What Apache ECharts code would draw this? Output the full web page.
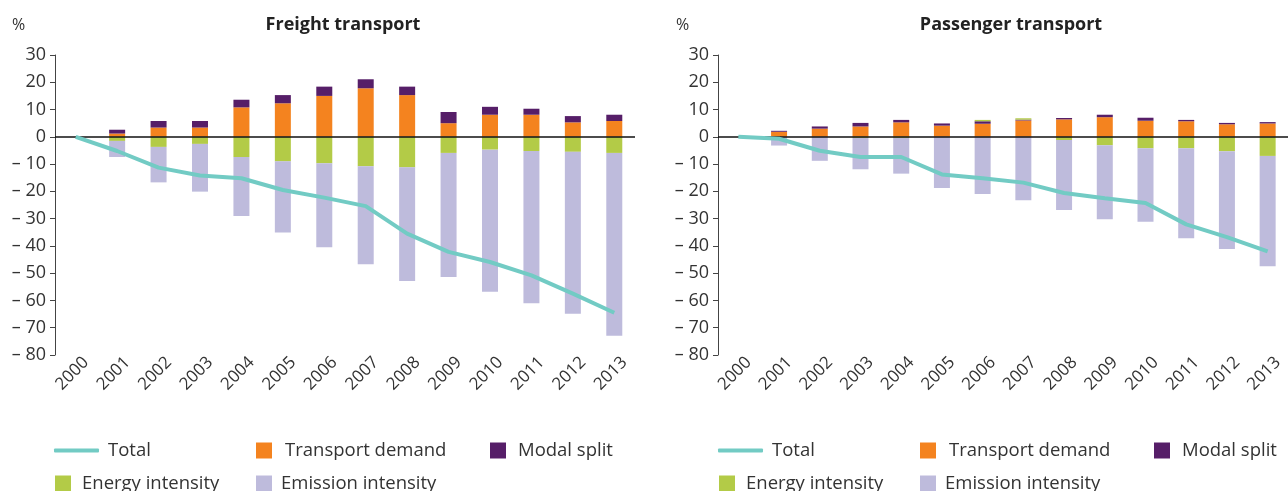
<!DOCTYPE html>
<html>
   <head>
       <meta charset="utf-8">
       <style>
           html, body { margin: 0; padding: 0; background: #fff; }
       </style>
   </head>
   <body>
       <div id="container" style="height: 491px;width: 1288px;"></div>
   </body>
</html>
<script type="text/javascript" src="https://cdn.jsdelivr.net/npm/echarts@6/dist/echarts.min.js"></script>
<script type="text/javascript">
    // data (% change vs 2000)
    const years = ['2000','2001','2002','2003','2004','2005','2006','2007','2008','2009','2010','2011','2012','2013'];
    const yTicks = [30, 20, 10, 0, -10, -20, -30, -40, -50, -60, -70, -80];

    const freightDemand   = [null, 1.2, 3.4, 3.4, 10.8, 12.3, 15.0, 17.8, 15.3, 5.0, 8.1, 8.1, 5.3, 5.8];
    const freightModal    = [null, 1.4, 2.4, 2.4, 2.8, 3.0, 3.4, 3.3, 3.1, 4.1, 2.9, 2.2, 2.3, 2.3];
    const freightEnergy   = [null, -1.5, -3.7, -2.6, -7.4, -9.0, -9.7, -10.8, -11.2, -5.9, -4.7, -5.2, -5.5, -5.9];
    const freightEmission = [null, -5.9, -13.0, -17.5, -21.6, -26.1, -30.8, -35.9, -41.7, -45.5, -52.1, -55.8, -59.4, -67.0];
    const freightTotal    = [0, -5.2, -11.3, -14.2, -15.2, -19.5, -22.3, -25.4, -35.5, -42.2, -45.9, -50.8, -57.5, -64.5];

    const passDemand   = [null, 1.85, 3.0, 3.8, 5.3, 4.1, 4.8, 6.0, 6.4, 7.2, 5.9, 5.7, 4.6, 4.9];
    const passModal    = [null, 0.35, 0.8, 1.3, 0.9, 0.8, 0.9, 0.3, 0.5, 0.9, 1.1, 0.5, 0.5, 0.5];
    const passEnergy   = [null, null, null, -0.4, -0.4, null, 0.5, 0.5, -1.2, -3.1, -4.2, -4.2, -5.3, -7.0];
    const passEmission = [null, -3.2, -8.8, -11.5, -13.1, -18.8, -21.0, -23.3, -25.6, -27.1, -26.9, -33.0, -35.8, -40.5];
    const passTotal    = [0, -0.7, -5.1, -7.4, -7.4, -13.8, -15.2, -16.8, -20.6, -22.5, -24.3, -32.1, -36.8, -42.0];

    const colors = {
        total: '#72cbc4',
        demand: '#f4831f',
        modal: '#561e68',
        energy: '#b3cb47',
        emission: '#bebbdc'
    };
    const font = "'Open Sans', sans-serif";
    const textColor = '#333';

    const dom = document.getElementById("container");
    const myChart = echarts.init(dom, null, {renderer: 'canvas'});

    function yLabel(v) {
        return v < 0 ? '\u2013 ' + Math.abs(v) : String(v);
    }

    function makeAxes(i) {
        const xAxis = {
            type: 'category',
            gridIndex: i,
            data: years,
            boundaryGap: true,
            axisLine: {show: false},
            axisTick: {show: false},
            axisLabel: {
                rotate: 45,
                interval: 0,
                margin: 3,
                fontFamily: font,
                fontSize: 17,
                color: textColor,
                verticalAlign: 'top',
                // nudge the rotated text along its baseline like the original
                padding: [0, -6, 0, 0]
            }
        };
        const yAxis = {
            type: 'value',
            gridIndex: i,
            min: yTicks[yTicks.length - 1],
            max: yTicks[0],
            interval: 10,
            splitLine: {show: false},
            axisLine: {show: true, lineStyle: {color: '#444', width: 1}},
            axisTick: {show: true, length: 5, lineStyle: {color: '#444'}},
            axisLabel: {
                fontFamily: font,
                fontSize: 18,
                color: textColor,
                margin: 9,
                formatter: yLabel
            }
        };
        return [xAxis, yAxis];
    }

    function makeSeries(i, demand, modal, energy, emission, total) {
        const bar = function(name, data, color) {
            return {
                name: name,
                type: 'bar',
                xAxisIndex: i,
                yAxisIndex: i,
                stack: 'g' + i,
                barWidth: 16,
                data: data,
                itemStyle: {color: color},
                emphasis: {disabled: true}
            };
        };
        return [
            bar('Transport demand', demand, colors.demand),
            bar('Modal split', modal, colors.modal),
            bar('Energy intensity', energy, colors.energy),
            Object.assign(bar('Emission intensity', emission, colors.emission), {
                markLine: {
                    silent: true,
                    symbol: 'none',
                    label: {show: false},
                    lineStyle: {color: '#111', width: 1.5, type: 'solid'},
                    data: [{yAxis: 0}]
                }
            }),
            {
                name: 'Total',
                type: 'line',
                xAxisIndex: i,
                yAxisIndex: i,
                data: total,
                showSymbol: false,
                symbol: 'none',
                lineStyle: {color: colors.total, width: 4},
                itemStyle: {color: colors.total},
                z: 5
            }
        ];
    }

    // one legend block per item so the columns line up like the original
    function legendItem(name, left, top, isLine, gap) {
        return {
            data: [name],
            left: left,
            top: top,
            padding: 0,
            icon: isLine ? 'roundRect' : 'rect',
            itemWidth: isLine ? 45 : 16,
            itemHeight: isLine ? 4 : 16,
            selectedMode: false,
            textStyle: {
                fontFamily: font,
                fontSize: 18.5,
                color: textColor,
                padding: [0, 0, 0, gap]
            }
        };
    }

    const legends = [];
    [0, 664].forEach(function(dx) {
        legends.push(legendItem('Total', 54 + dx, 441, true, 4));
        legends.push(legendItem('Transport demand', 256 + dx, 441, false, 8));
        legends.push(legendItem('Modal split', 490 + dx, 441, false, 7));
        legends.push(legendItem('Energy intensity', 55 + dx, 474, false, 6));
        legends.push(legendItem('Emission intensity', 256 + dx, 474, false, 4));
    });

    const ax0 = makeAxes(0);
    const ax1 = makeAxes(1);

    const option = {
        animation: false,
        backgroundColor: '#fff',
        title: [
            {text: 'Freight transport', left: 338, top: 11, textAlign: 'center',
             textStyle: {fontFamily: font, fontSize: 18, fontWeight: 'bold', color: '#222'}},
            {text: 'Passenger transport', left: 1006, top: 11, textAlign: 'center',
             textStyle: {fontFamily: font, fontSize: 18, fontWeight: 'bold', color: '#222'}},
            {text: '%', left: 7, top: 12,
             textStyle: {fontFamily: font, fontSize: 16, fontWeight: 'normal', color: textColor}},
            {text: '%', left: 671, top: 12,
             textStyle: {fontFamily: font, fontSize: 16, fontWeight: 'normal', color: textColor}}
        ],
        legend: legends,
        grid: [
            {left: 55, top: 55, width: 580, height: 300},
            {left: 718, top: 55, width: 581, height: 300}
        ],
        xAxis: [ax0[0], ax1[0]],
        yAxis: [ax0[1], ax1[1]],
        series: makeSeries(0, freightDemand, freightModal, freightEnergy, freightEmission, freightTotal)
            .concat(makeSeries(1, passDemand, passModal, passEnergy, passEmission, passTotal))
    };
    myChart.setOption(option, true);
</script>
